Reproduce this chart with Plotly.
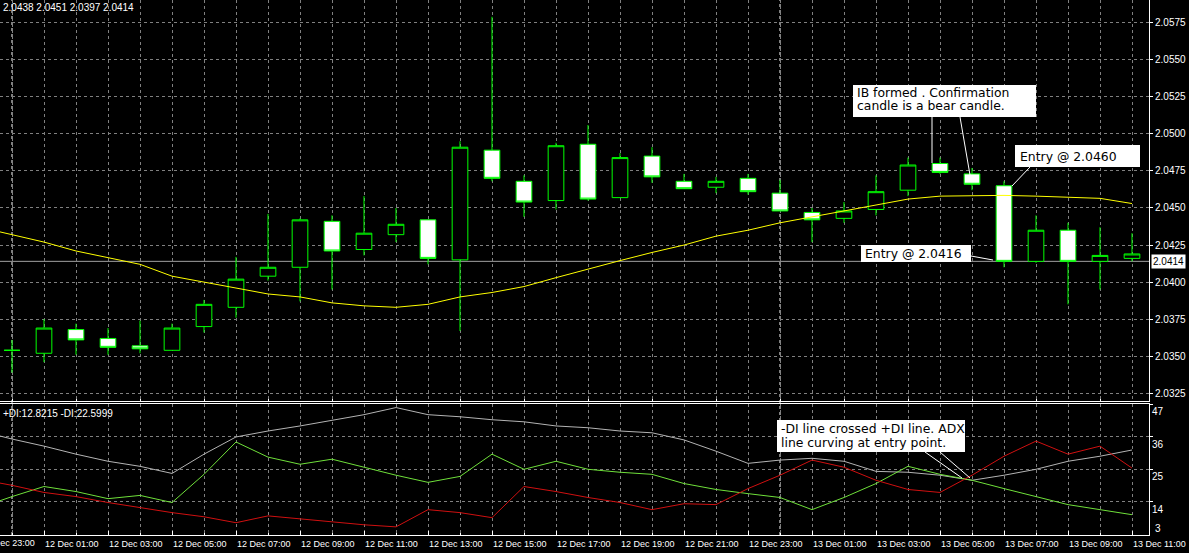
import plotly.graph_objects as go

# ---------------- data ----------------
times = [
    "2007-12-12 00:00", "2007-12-12 01:00", "2007-12-12 02:00", "2007-12-12 03:00",
    "2007-12-12 04:00", "2007-12-12 05:00", "2007-12-12 06:00", "2007-12-12 07:00",
    "2007-12-12 08:00", "2007-12-12 09:00", "2007-12-12 10:00", "2007-12-12 11:00",
    "2007-12-12 12:00", "2007-12-12 13:00", "2007-12-12 14:00", "2007-12-12 15:00",
    "2007-12-12 16:00", "2007-12-12 17:00", "2007-12-12 18:00", "2007-12-12 19:00",
    "2007-12-12 20:00", "2007-12-12 21:00", "2007-12-12 22:00", "2007-12-12 23:00",
    "2007-12-13 00:00", "2007-12-13 01:00", "2007-12-13 02:00", "2007-12-13 03:00",
    "2007-12-13 04:00", "2007-12-13 05:00", "2007-12-13 06:00", "2007-12-13 07:00",
    "2007-12-13 08:00", "2007-12-13 09:00", "2007-12-13 10:00", "2007-12-13 11:00",
]
open_ = [2.0354, 2.0352, 2.0368, 2.0362, 2.0357, 2.0354, 2.0370, 2.0383, 2.0404,
         2.0410, 2.0441, 2.0422, 2.0432, 2.0442, 2.0415, 2.0489, 2.0468, 2.0455,
         2.0493, 2.0457, 2.0485, 2.0468, 2.0464, 2.0470, 2.0460, 2.0447, 2.0443,
         2.0449, 2.0462, 2.0480, 2.0473, 2.0465, 2.0414, 2.0435, 2.0414, 2.0416]
high = [2.0361, 2.0375, 2.0372, 2.0369, 2.0374, 2.0372, 2.0388, 2.0417, 2.0446,
        2.0443, 2.0445, 2.0458, 2.0450, 2.0442, 2.0495, 2.0579, 2.0472, 2.0494,
        2.0506, 2.0487, 2.0491, 2.0473, 2.0471, 2.0473, 2.0469, 2.0450, 2.0454,
        2.0472, 2.0484, 2.0484, 2.0477, 2.0468, 2.0445, 2.0440, 2.0437, 2.0433]
low = [2.0339, 2.0346, 2.0351, 2.0351, 2.0352, 2.0354, 2.0366, 2.0376, 2.0401,
       2.0387, 2.0395, 2.0418, 2.0427, 2.0412, 2.0367, 2.0468, 2.0444, 2.0449,
       2.0455, 2.0457, 2.0467, 2.0463, 2.0460, 2.0459, 2.0448, 2.0427, 2.0440,
       2.0445, 2.0458, 2.0473, 2.0462, 2.0410, 2.0413, 2.0385, 2.0395, 2.0414]
close = [2.0354, 2.0369, 2.0361, 2.0356, 2.0355, 2.0369, 2.0385, 2.0402, 2.0410,
         2.0442, 2.0421, 2.0433, 2.0439, 2.0416, 2.0491, 2.0470, 2.0454, 2.0492,
         2.0456, 2.0484, 2.0471, 2.0463, 2.0468, 2.0461, 2.0448, 2.0442, 2.0448,
         2.0461, 2.0479, 2.0474, 2.0466, 2.0414, 2.0435, 2.0414, 2.0418, 2.0419]

ind_times = ["2007-12-11 23:00"] + times
ma = [2.0437, 2.0432, 2.0427, 2.0421, 2.04165, 2.0412, 2.0404, 2.0400, 2.0396,
      2.0392, 2.0390, 2.0386, 2.0384, 2.0383, 2.0385, 2.0390, 2.0393, 2.0397,
      2.0403, 2.0409, 2.04145, 2.0420, 2.0425, 2.0431, 2.0435, 2.0440, 2.0444,
      2.04475, 2.0452, 2.0456, 2.0458, 2.04585, 2.04585, 2.0458, 2.04575,
      2.04565, 2.0453]
adx = [37.9, 35.2, 32.8, 30.1, 27.7, 26.0, 23.6, 30.1, 35.9, 37.9, 39.6, 41.4,
       43.4, 45.8, 43.4, 42.7, 41.7, 41.0, 39.6, 39.0, 37.9, 37.3, 34.9, 31.1,
       27.0, 28.1, 28.7, 27.7, 24.3, 24.0, 23.0, 21.3, 23.0, 25.0, 27.7, 29.4, 31.5]
plus_di = [12.1, 15.8, 19.2, 17.5, 15.1, 16.2, 13.8, 23.3, 34.2, 29.1, 26.7, 28.4,
           25.7, 23.0, 20.6, 22.6, 30.1, 25.0, 27.7, 25.0, 24.0, 23.3, 20.2, 18.2,
           16.8, 15.5, 11.4, 15.5, 20.2, 26.0, 23.3, 21.3, 18.5, 15.8, 13.1, 11.4, 9.7]
minus_di = [21.6, 19.6, 17.2, 15.8, 13.8, 12.1, 10.4, 9.0, 7.0, 9.3, 8.3, 7.3,
            6.3, 5.6, 11.4, 10.4, 8.7, 19.2, 17.5, 15.5, 13.8, 11.4, 13.4, 13.1,
            18.5, 23.0, 28.1, 25.7, 21.3, 18.2, 17.2, 23.0, 29.4, 34.5, 30.1, 32.8, 25.4]

bid = 2.0414
price_ticks = [2.0325, 2.0350, 2.0375, 2.0400, 2.0425, 2.0450, 2.0475, 2.0500,
               2.0525, 2.0550, 2.0575]
adx_ticks = [14, 25, 36, 47]
separators = ["2007-12-12 00:00", "2007-12-13 00:00"]
header_text = "2.0438 2.0451 2.0397 2.0414"
sub_header_text = "+DI:12.8215 -DI:22.5999"

# ---------------- layout helpers ----------------
W, H = 1189, 553
PW, PH = 1149, 535   # plot area (margins r=40, b=18)


def px(x):
    return x / PW


def py(y):
    return (PH - y) / PH


GRID = "#808080"
DASH = "3px,3px"
AXFONT = dict(family="Liberation Sans, Arial, sans-serif", size=10, color="#ffffff")
XFONT = dict(AXFONT, size=9)
CALLFONT = dict(family="DejaVu Sans, sans-serif", size=12.4, color="#000000")

fig = go.Figure()

fig.add_trace(go.Candlestick(
    x=times, open=open_, high=high, low=low, close=close,
    increasing=dict(line=dict(color="#00ff00", width=1), fillcolor="#000000"),
    decreasing=dict(line=dict(color="#00ff00", width=1), fillcolor="#ffffff"),
    whiskerwidth=0, xaxis="x", yaxis="y", showlegend=False,
))
fig.add_trace(go.Scatter(x=ind_times, y=ma, mode="lines",
                         line=dict(color="#ffff00", width=1),
                         xaxis="x", yaxis="y", showlegend=False))

fig.add_trace(go.Scatter(x=ind_times, y=adx, mode="lines",
                         line=dict(color="#b4b4b4", width=1),
                         xaxis="x2", yaxis="y2", showlegend=False))
fig.add_trace(go.Scatter(x=ind_times, y=plus_di, mode="lines",
                         line=dict(color="#6fe03a", width=1),
                         xaxis="x2", yaxis="y2", showlegend=False))
fig.add_trace(go.Scatter(x=ind_times, y=minus_di, mode="lines",
                         line=dict(color="#d01010", width=1),
                         xaxis="x2", yaxis="y2", showlegend=False))

xrange_ = ["2007-12-11 23:37:30", "2007-12-13 11:31:52.5"]

common_x = dict(
    type="date", range=xrange_, showgrid=True, gridcolor=GRID, griddash=DASH,
    gridwidth=1, dtick=7200000, tick0="2007-12-11 23:00", zeroline=False,
    showline=True, linecolor="#ffffff", linewidth=1,
    minor=dict(dtick=3600000, showgrid=True, gridcolor=GRID, griddash=DASH,
               ticks="inside", ticklen=2, tickcolor="#ffffff"),
)

fig.update_layout(
    width=W, height=H,
    margin=dict(l=0, r=40, t=0, b=18, pad=0),
    paper_bgcolor="#000000", plot_bgcolor="#000000",
    showlegend=False, hovermode=False,
    xaxis=dict(common_x, domain=[0, 1], anchor="y", showticklabels=False,
               ticks="", rangeslider=dict(visible=False)),
    yaxis=dict(domain=[1 - 401 / PH, 1], anchor="x", side="right",
               range=[2.03198, 2.05903], tickvals=price_ticks, tickformat=".4f",
               showgrid=True, gridcolor=GRID, griddash=DASH, zeroline=False,
               showline=True, linecolor="#ffffff", linewidth=1,
               ticks="outside", ticklen=3, tickcolor="#ffffff", tickfont=AXFONT),
    xaxis2=dict(common_x, domain=[0, 1], anchor="y2", matches="x",
                tickformat="%d %b %H:%M", ticklabelposition="outside right",
                ticks="inside", ticklen=4, tickcolor="#ffffff", mirror=True,
                tickfont=XFONT),
    yaxis2=dict(domain=[0, (PH - 404) / PH], anchor="x2", side="right",
                range=[2.86, 47.0], tickvals=adx_ticks,
                ticktext=[str(v) for v in adx_ticks],
                ticklabelposition="outside bottom",
                showgrid=True, gridcolor=GRID, griddash=DASH, zeroline=False,
                showline=True, linecolor="#ffffff", linewidth=1,
                ticks="outside", ticklen=3, tickcolor="#ffffff", tickfont=AXFONT),
)

shapes = []
for s in separators:
    shapes.append(dict(type="line", xref="x", yref="paper", x0=s, x1=s, y0=0, y1=1,
                       line=dict(color="#ffffff", width=1, dash=DASH), layer="below"))
shapes.append(dict(type="line", xref="paper", yref="y", x0=0, x1=1, y0=bid, y1=bid,
                   line=dict(color="#a0a0a0", width=1), layer="below"))

# call-out boxes (pixel positions)
boxes = [(853, 85, 1036, 117), (1015, 145, 1140, 167), (861, 245, 971, 262),
         (777, 420, 965, 452)]
for x0, y0, x1, y1 in boxes:
    shapes.append(dict(type="rect", xref="paper", yref="paper",
                       x0=px(x0), x1=px(x1), y0=py(y1), y1=py(y0),
                       fillcolor="#ffffff", line=dict(width=0), layer="above"))
# pointer lines
pointers = [(932, 117, 932, 163), (960, 117, 970, 175), (1030, 167, 1012, 186),
            (971, 256, 993, 260), (925, 452, 962, 478), (940, 452, 970, 478)]
for x0, y0, x1, y1 in pointers:
    shapes.append(dict(type="line", xref="paper", yref="paper",
                       x0=px(x0), x1=px(x1), y0=py(y0), y1=py(y1),
                       line=dict(color="#ffffff", width=1), layer="above"))
fig.update_layout(shapes=shapes)

annotations = []
callouts = [
    ("IB formed . Confirmation", 855, 93),
    ("candle is a bear candle.", 855, 105.5),
    ("Entry @ 2.0460", 1018, 156),
    ("Entry @ 2.0416", 863, 253.5),
    ("-DI line crossed +DI line. ADX", 779, 428.5),
    ("line curving at entry point.", 779, 443),
]
for text, x, y in callouts:
    annotations.append(dict(text=text, xref="paper", yref="paper", x=px(x), y=py(y),
                            xanchor="left", yanchor="middle", showarrow=False,
                            font=CALLFONT))
annotations += [
    dict(text=header_text, xref="paper", yref="paper", x=px(1), y=py(7),
         xanchor="left", yanchor="middle", showarrow=False, font=AXFONT),
    dict(text=sub_header_text, xref="paper", yref="paper", x=px(1), y=py(413),
         xanchor="left", yanchor="middle", showarrow=False, font=AXFONT),
    dict(text=f"{bid:.4f}", xref="paper", yref="y", x=px(1151), y=bid,
         xanchor="left", yanchor="middle", showarrow=False, bgcolor="#ffffff",
         borderpad=1, font=dict(AXFONT, color="#000000")),
    dict(text="3", xref="paper", yref="paper", x=px(1153), y=py(528),
         xanchor="left", yanchor="middle", showarrow=False, font=AXFONT),
    dict(text="11 Dec 23:00", xref="paper", yref="paper", x=px(-20), y=py(543),
         xanchor="left", yanchor="middle", showarrow=False, font=XFONT),
]
fig.update_layout(annotations=annotations)

fig.write_html("out.html")
